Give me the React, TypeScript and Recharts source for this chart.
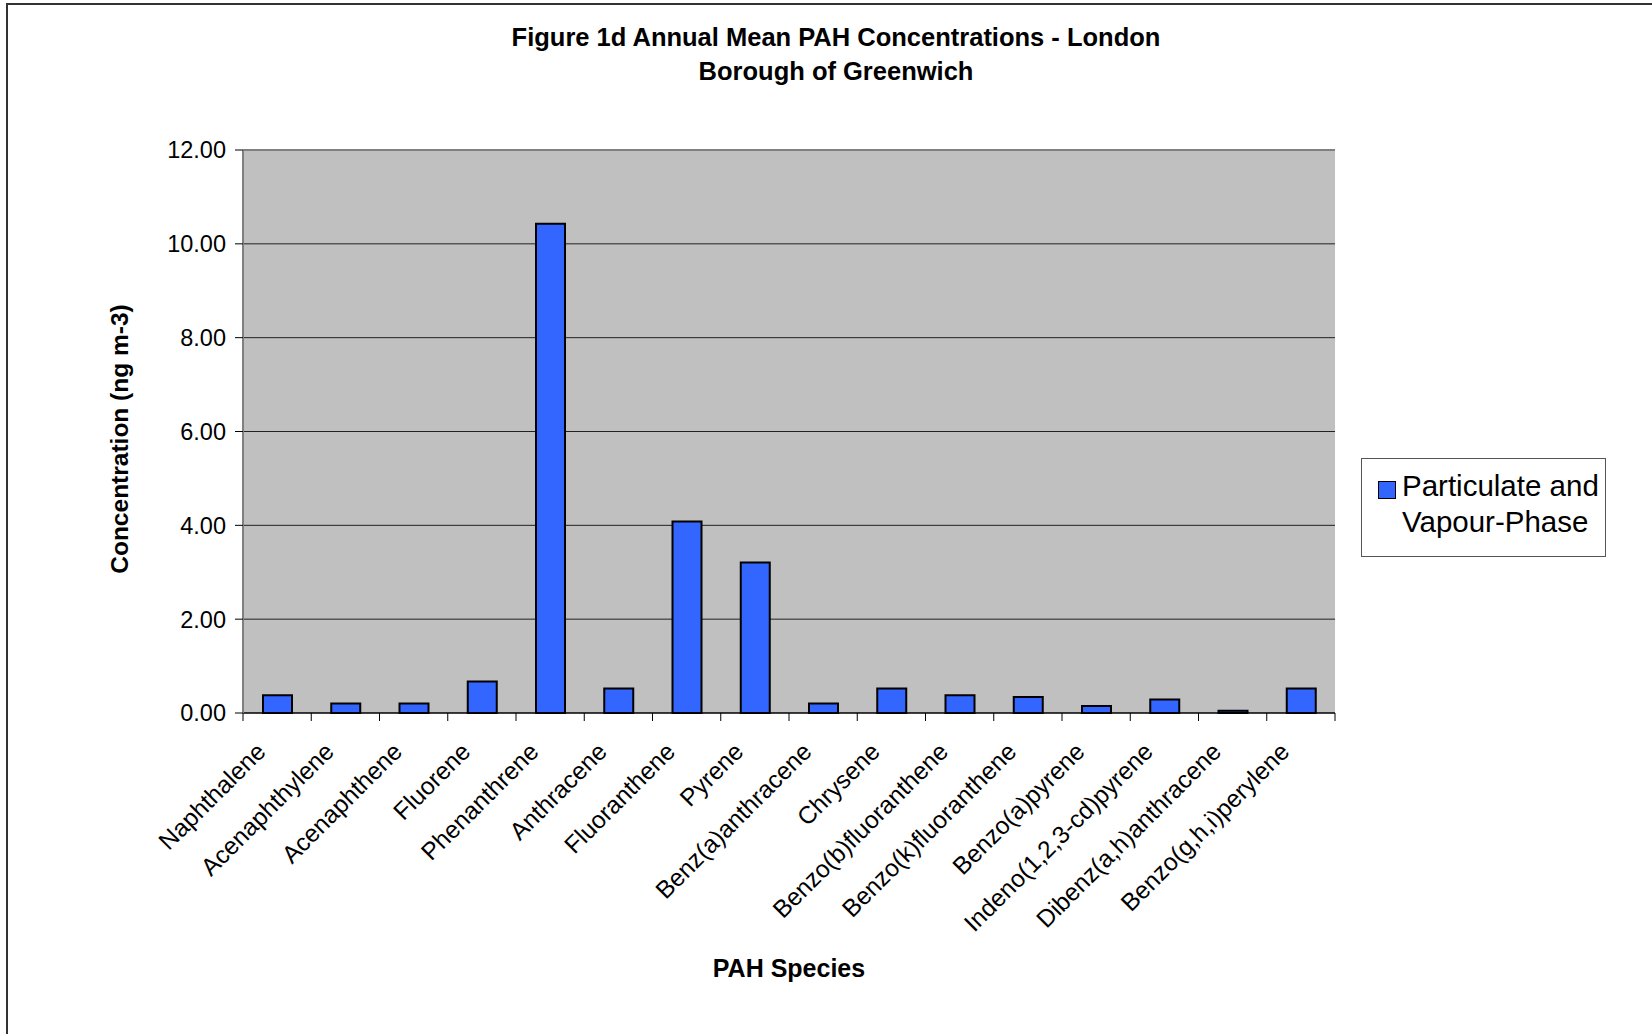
import React from 'react';
import { BarChart, Bar, XAxis, YAxis, CartesianGrid, ReferenceLine } from 'recharts';

const categories = [
  'Naphthalene',
  'Acenaphthylene',
  'Acenaphthene',
  'Fluorene',
  'Phenanthrene',
  'Anthracene',
  'Fluoranthene',
  'Pyrene',
  'Benz(a)anthracene',
  'Chrysene',
  'Benzo(b)fluoranthene',
  'Benzo(k)fluoranthene',
  'Benzo(a)pyrene',
  'Indeno(1,2,3-cd)pyrene',
  'Dibenz(a,h)anthracene',
  'Benzo(g,h,i)perylene',
];
const values = [0.38, 0.2, 0.2, 0.67, 10.43, 0.52, 4.08, 3.21, 0.2, 0.52, 0.38, 0.34, 0.15, 0.29, 0.05, 0.52];
const yTicks = [0, 2, 4, 6, 8, 10, 12];
const seriesName = ['Particulate and', 'Vapour-Phase'];
const title = ['Figure 1d Annual Mean PAH Concentrations - London', 'Borough of Greenwich'];
const xTitle = 'PAH Species';
const yTitle = 'Concentration (ng m-3)';

const data = categories.map((c, i) => ({ name: c, value: values[i] }));

const W = 1652;
const H = 1034;
const PLOT_L = 243;
const PLOT_R = 1335;
const PLOT_T = 150;
const PLOT_B = 713;
const Y_AXIS_W = 100;
const X_AXIS_H = 200;
const FONT = '"Liberation Sans", Arial, sans-serif';
const BAR_FILL = '#3366FF';

const XTick = (props: any) => {
  const { x, y, payload, index } = props;
  const step = (PLOT_R - PLOT_L) / categories.length;
  const px = x - 10;
  const py = y + 40;
  return (
    <g>
      <line x1={x - step / 2} x2={x - step / 2} y1={y} y2={y + 8} stroke="#000" strokeWidth={1} />
      {index === categories.length - 1 && (
        <line x1={x + step / 2} x2={x + step / 2} y1={y} y2={y + 8} stroke="#000" strokeWidth={1} />
      )}
      <text
        x={px}
        y={py}
        textAnchor="end"
        transform={`rotate(-45, ${px}, ${py})`}
        fontFamily={FONT}
        fontSize={24.5}
        fill="#000"
      >
        {payload.value}
      </text>
    </g>
  );
};

export default function App() {
  return (
    <div style={{ position: 'absolute', left: 0, top: 0, width: W, height: H, background: '#fff', overflow: 'hidden' }}>
      <div
        style={{
          position: 'absolute',
          left: 6,
          top: 3,
          width: W,
          height: H,
          borderLeft: '2px solid #333',
          borderTop: '2px solid #333',
        }}
      />
      <BarChart
        width={W}
        height={H}
        data={data}
        margin={{ top: PLOT_T, right: W - PLOT_R, bottom: H - PLOT_B - X_AXIS_H, left: PLOT_L - Y_AXIS_W }}
        barSize={29}
        style={{ position: 'absolute', left: 0, top: 0 }}
      >
        <CartesianGrid fill="#C0C0C0" vertical={false} stroke="#222" strokeWidth={1} horizontalValues={[2, 4, 6, 8, 10]} />
        <XAxis
          dataKey="name"
          interval={0}
          height={X_AXIS_H}
          tickLine={false}
          tickSize={0}
          tickMargin={0}
          axisLine={{ stroke: '#000', strokeWidth: 1.5 }}
          tick={<XTick />}
        />
        <YAxis
          domain={[0, 12]}
          ticks={yTicks}
          width={Y_AXIS_W}
          tickFormatter={(v: number) => v.toFixed(2)}
          tick={{ fontFamily: FONT, fontSize: 23.5, fill: '#000' }}
          tickLine={{ stroke: '#000' }}
          tickSize={8}
          tickMargin={9}
          axisLine={{ stroke: '#808080', strokeWidth: 2 }}
        />
        <YAxis
          yAxisId="r"
          orientation="right"
          domain={[0, 12]}
          width={0}
          tick={false}
          tickLine={false}
          axisLine={{ stroke: '#808080', strokeWidth: 3 }}
        />
        <ReferenceLine y={12} stroke="#808080" strokeWidth={2} />
        <Bar dataKey="value" fill={BAR_FILL} stroke="#000" strokeWidth={2} isAnimationActive={false} />
      </BarChart>

      <div
        style={{
          position: 'absolute',
          left: 0,
          width: 1672,
          top: 20,
          textAlign: 'center',
          fontFamily: FONT,
          fontWeight: 'bold',
          fontSize: 25.5,
          lineHeight: '34px',
          color: '#000',
        }}
      >
        <div>{title[0]}</div>
        <div>{title[1]}</div>
      </div>

      <div
        style={{
          position: 'absolute',
          left: PLOT_L,
          width: PLOT_R - PLOT_L,
          top: 954,
          textAlign: 'center',
          fontFamily: FONT,
          fontWeight: 'bold',
          fontSize: 25,
          color: '#000',
        }}
      >
        {xTitle}
      </div>

      <div
        style={{
          position: 'absolute',
          left: 120,
          top: (PLOT_T + PLOT_B) / 2 + 7,
          transform: 'translate(-50%, -50%) rotate(-90deg)',
          whiteSpace: 'nowrap',
          fontFamily: FONT,
          fontWeight: 'bold',
          fontSize: 24.5,
          color: '#000',
        }}
      >
        {yTitle}
      </div>

      <div
        style={{
          position: 'absolute',
          left: 1361,
          top: 458,
          width: 245,
          height: 99,
          border: '1px solid #555',
          background: '#fff',
          boxSizing: 'border-box',
          fontFamily: FONT,
          fontSize: 29.5,
          color: '#000',
        }}
      >
        <div
          style={{
            position: 'absolute',
            left: 16,
            top: 22,
            width: 16,
            height: 16,
            background: BAR_FILL,
            border: '1.5px solid #000',
          }}
        />
        <div style={{ position: 'absolute', left: 40, top: 9, lineHeight: '36px', whiteSpace: 'nowrap' }}>
          <div>{seriesName[0]}</div>
          <div>{seriesName[1]}</div>
        </div>
      </div>
    </div>
  );
}
